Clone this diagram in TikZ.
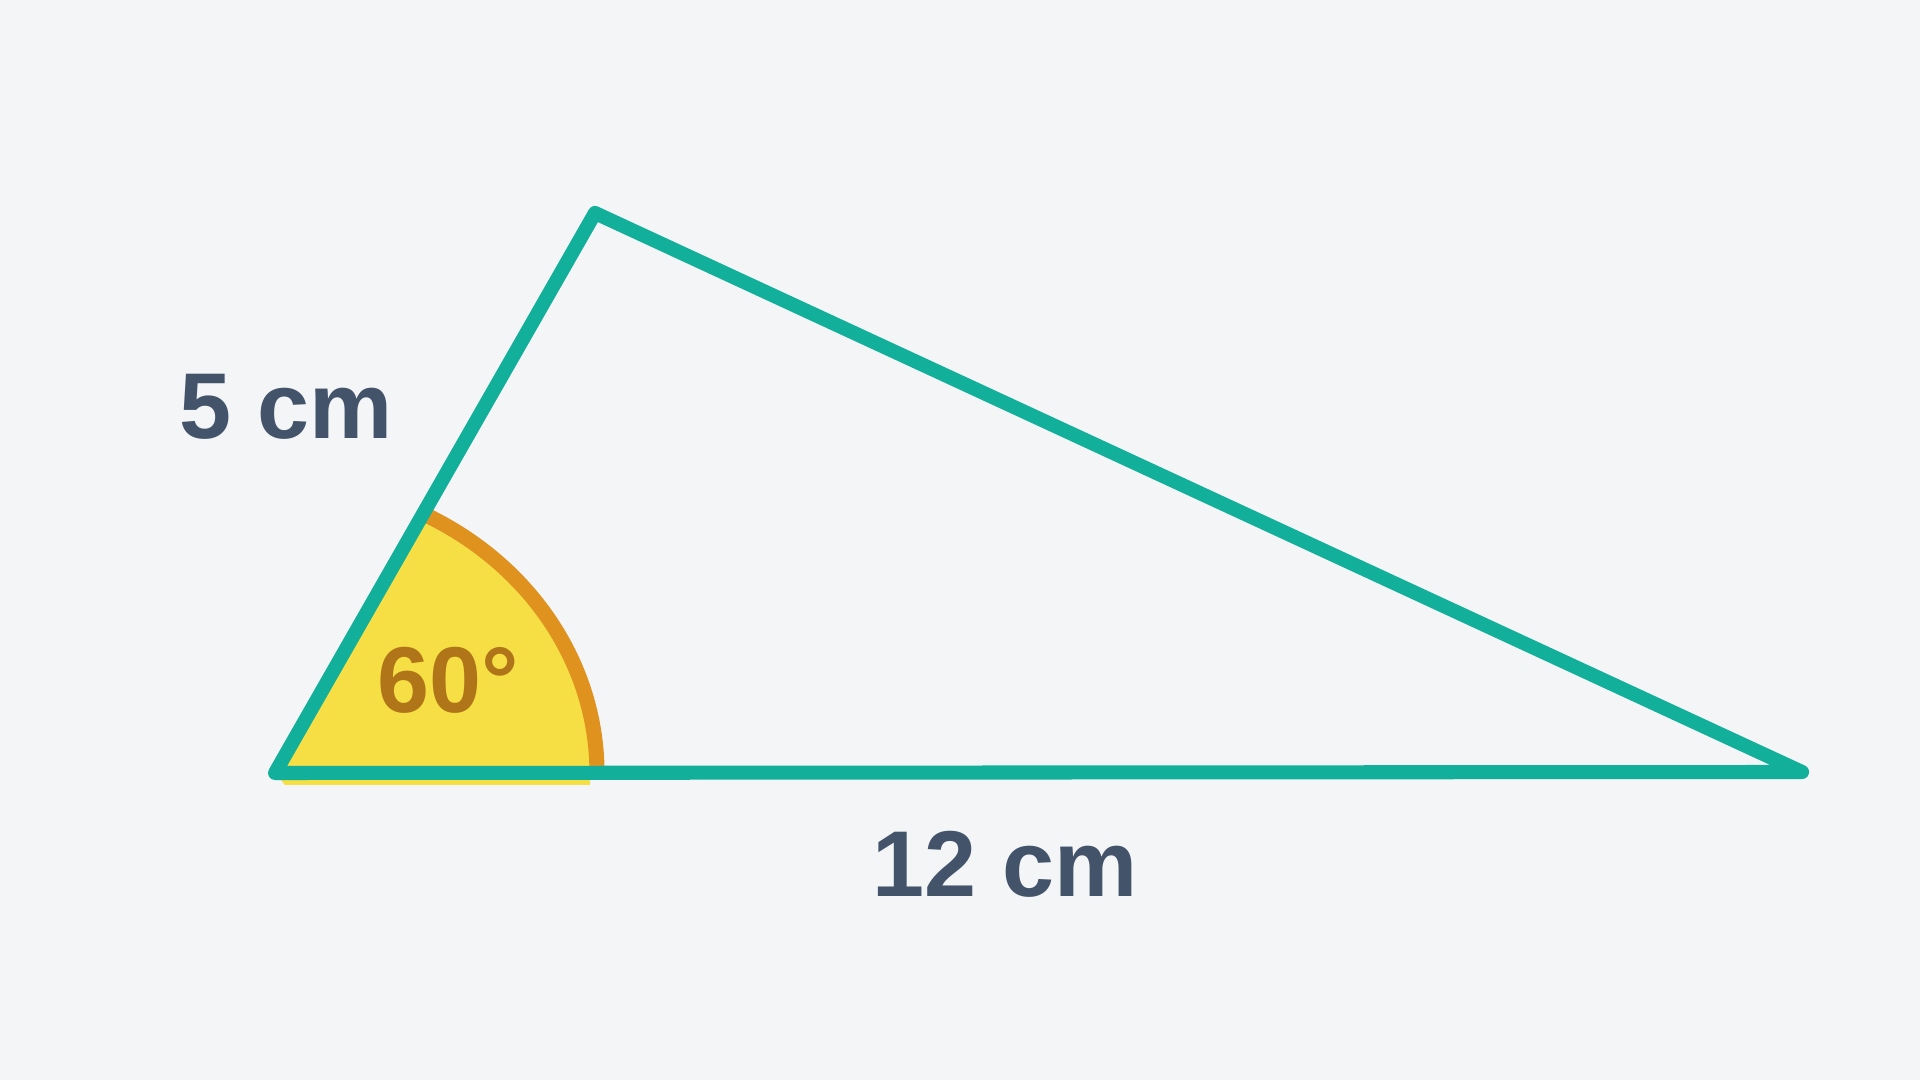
\documentclass[tikz,border=0pt]{standalone}
\usepackage{fontspec}
\setmainfont{Liberation Sans}
\usetikzlibrary{positioning,calc}
\definecolor{bgGray}{HTML}{F3F5F7}
\definecolor{sideTeal}{HTML}{12AF9B}
\definecolor{arcOrange}{HTML}{E0921F}
\definecolor{fillYellow}{HTML}{F5DF45}
\definecolor{textSlate}{HTML}{435369}
\definecolor{angleBrown}{HTML}{B07518}
\begin{document}
\begin{tikzpicture}
                [side/.style={draw=sideTeal,line width=4pt,line join=round,line cap=round},
                 label/.style={font=\fontsize{26.6}{30}\selectfont\bfseries,text=textSlate,inner sep=0pt}]

                \pgfmathsetmacro{\arcX}{3.22}
                \pgfmathsetmacro{\arcY}{2.92}

                \fill[bgGray] (0,0) rectangle (19.2,10.8);
                \useasboundingbox (0,0) rectangle (19.2,10.8);

                \coordinate (A) at (2.75,3.07);
                \coordinate (B) at (5.95,8.67);
                \coordinate (C) at (18.02,3.08);

                % angle mark
                \fill[fillYellow] (2.85,2.95) -- (5.90,2.95) -- (5.90,3.07)
                arc[start angle=0,end angle=62,x radius=\arcX-0.08,y radius=\arcY-0.08]
                -- ($(A)!0.44!(B)$) -- (A) -- cycle;
                \draw[arcOrange,line width=4.3pt] ($(A)+(\arcX,0)$)
                arc[start angle=0,end angle=62,x radius=\arcX,y radius=\arcY];

                \draw[side] (A) -- (B) -- (C) -- cycle;

                \node[label] (short) at (2.86,6.73) {5 cm};
                \node[label] (long) at (10.05,2.16) {12 cm};
                \node[label,text=angleBrown] (angle) at (4.48,4.00) {60°};

\end{tikzpicture}
\end{document}
